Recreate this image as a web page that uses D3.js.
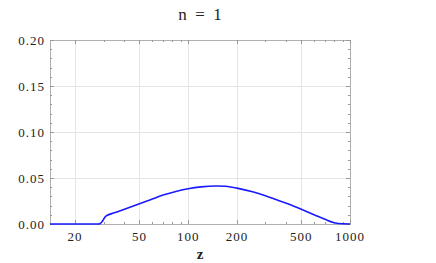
<!DOCTYPE html>
<html>
<head>
<meta charset="utf-8">
<script src="https://cdn.jsdelivr.net/npm/d3@7"></script>
<style>
  body { margin: 0; background: #fff; }
  svg text { font-family: "Liberation Serif", "Times New Roman", "DejaVu Serif", serif; }
</style>
</head>
<body>
<div id="chart"></div>
<script>
// curve (z, value)
const zValues = [14, 20, 27, 28, 28.6, 29.5, 30.5, 31.3, 35, 40, 50, 60, 70, 85, 100, 120, 150, 170, 200, 250, 300, 350, 400, 450, 500, 600, 700, 800, 900, 1000];
const yValues = [0, 0, 0, 0, 0.0005, 0.003, 0.007, 0.009, 0.0121, 0.0158, 0.0221, 0.0272, 0.0315, 0.0357, 0.0384, 0.0404, 0.0413, 0.0410, 0.0390, 0.0350, 0.0307, 0.0265, 0.0228, 0.0194, 0.0160, 0.0101, 0.0051, 0.0014, 0.0002, 0];

const xMajor = [20, 50, 100, 200, 500, 1000];
const xMinor = [30, 40, 60, 70, 80, 90, 300, 400, 600, 700, 800, 900];
const yMajor = [0, 0.05, 0.10, 0.15, 0.20];
const yMinor = d3.range(0, 0.2001, 0.01);

const title = "n  =  1";
const xLabel = "z";

const width = 436, height = 263;
const margin = {top: 40, right: 86, bottom: 39, left: 50};

const svg = d3.select("#chart").append("svg")
    .attr("width", width)
    .attr("height", height);

const x = d3.scaleLog().domain([14, 1000]).range([margin.left, width - margin.right]);
const y = d3.scaleLinear().domain([0, 0.2]).range([height - margin.bottom, margin.top]);

const x0 = x.range()[0], x1 = x.range()[1];
const y0 = y.range()[0], y1 = y.range()[1];

// grid
const grid = svg.append("g").attr("stroke", "#e4e4e4").attr("stroke-width", 1);
grid.selectAll(".gx").data(xMajor.filter(d => d < 1000)).join("line")
    .attr("x1", d => Math.round(x(d)) + 0.5).attr("x2", d => Math.round(x(d)) + 0.5)
    .attr("y1", y1).attr("y2", y0);
grid.selectAll(".gy").data(yMajor.slice(1, -1)).join("line")
    .attr("x1", x0).attr("x2", x1)
    .attr("y1", d => Math.round(y(d)) + 0.5).attr("y2", d => Math.round(y(d)) + 0.5);

// frame
svg.append("rect")
    .attr("x", x0 + 0.5).attr("y", y1 + 0.5)
    .attr("width", x1 - x0).attr("height", y0 - y1)
    .attr("fill", "none").attr("stroke", "#b0b0b0");

// ticks on all four sides, pointing inward
const ticks = svg.append("g").attr("stroke", "#999").attr("stroke-width", 1);
function xTicks(vals, len) {
  ticks.append("g").selectAll("line").data(vals).join("line")
      .attr("x1", d => Math.round(x(d)) + 0.5).attr("x2", d => Math.round(x(d)) + 0.5)
      .attr("y1", y0).attr("y2", y0 - len);
  ticks.append("g").selectAll("line").data(vals).join("line")
      .attr("x1", d => Math.round(x(d)) + 0.5).attr("x2", d => Math.round(x(d)) + 0.5)
      .attr("y1", y1).attr("y2", y1 + len);
}
function yTicks(vals, len) {
  ticks.append("g").selectAll("line").data(vals).join("line")
      .attr("x1", x0).attr("x2", x0 + len)
      .attr("y1", d => Math.round(y(d)) + 0.5).attr("y2", d => Math.round(y(d)) + 0.5);
  ticks.append("g").selectAll("line").data(vals).join("line")
      .attr("x1", x1).attr("x2", x1 - len)
      .attr("y1", d => Math.round(y(d)) + 0.5).attr("y2", d => Math.round(y(d)) + 0.5);
}
xTicks(xMajor, 4);
xTicks(xMinor, 2);
yTicks(yMajor, 4);
yTicks(yMinor, 2);

// tick labels
svg.append("g").selectAll("text").data(xMajor).join("text")
    .attr("x", d => x(d)).attr("y", y0 + 17)
    .attr("text-anchor", "middle").attr("fill", "#222")
    .attr("font-size", 13).attr("letter-spacing", 1)
    .text(d => d);
svg.append("g").selectAll("text").data(yMajor).join("text")
    .attr("x", x0 - 5).attr("y", d => y(d) + 4.5)
    .attr("text-anchor", "end").attr("fill", "#222")
    .attr("font-size", 13).attr("letter-spacing", 1)
    .text(d => d3.format(".2f")(d));

// curve
const data = zValues.map((z, i) => ({z, v: yValues[i]}));
const line = d3.line()
    .x(d => x(d.z)).y(d => y(d.v))
    .curve(d3.curveMonotoneX);
svg.append("path").datum(data)
    .attr("fill", "none").attr("stroke", "#1a1aff").attr("stroke-width", 1.6)
    .attr("d", line);

// title and axis label
svg.append("text").attr("x", (x0 + x1) / 2).attr("y", 20)
    .attr("text-anchor", "middle").attr("font-size", 17).attr("fill", "#222")
    .style("white-space", "pre")
    .text(title);
svg.append("text").attr("x", (x0 + x1) / 2).attr("y", 259)
    .attr("text-anchor", "middle").attr("font-size", 15).attr("font-weight", "bold").attr("fill", "#222")
    .text(xLabel);
</script>
</body>
</html>
